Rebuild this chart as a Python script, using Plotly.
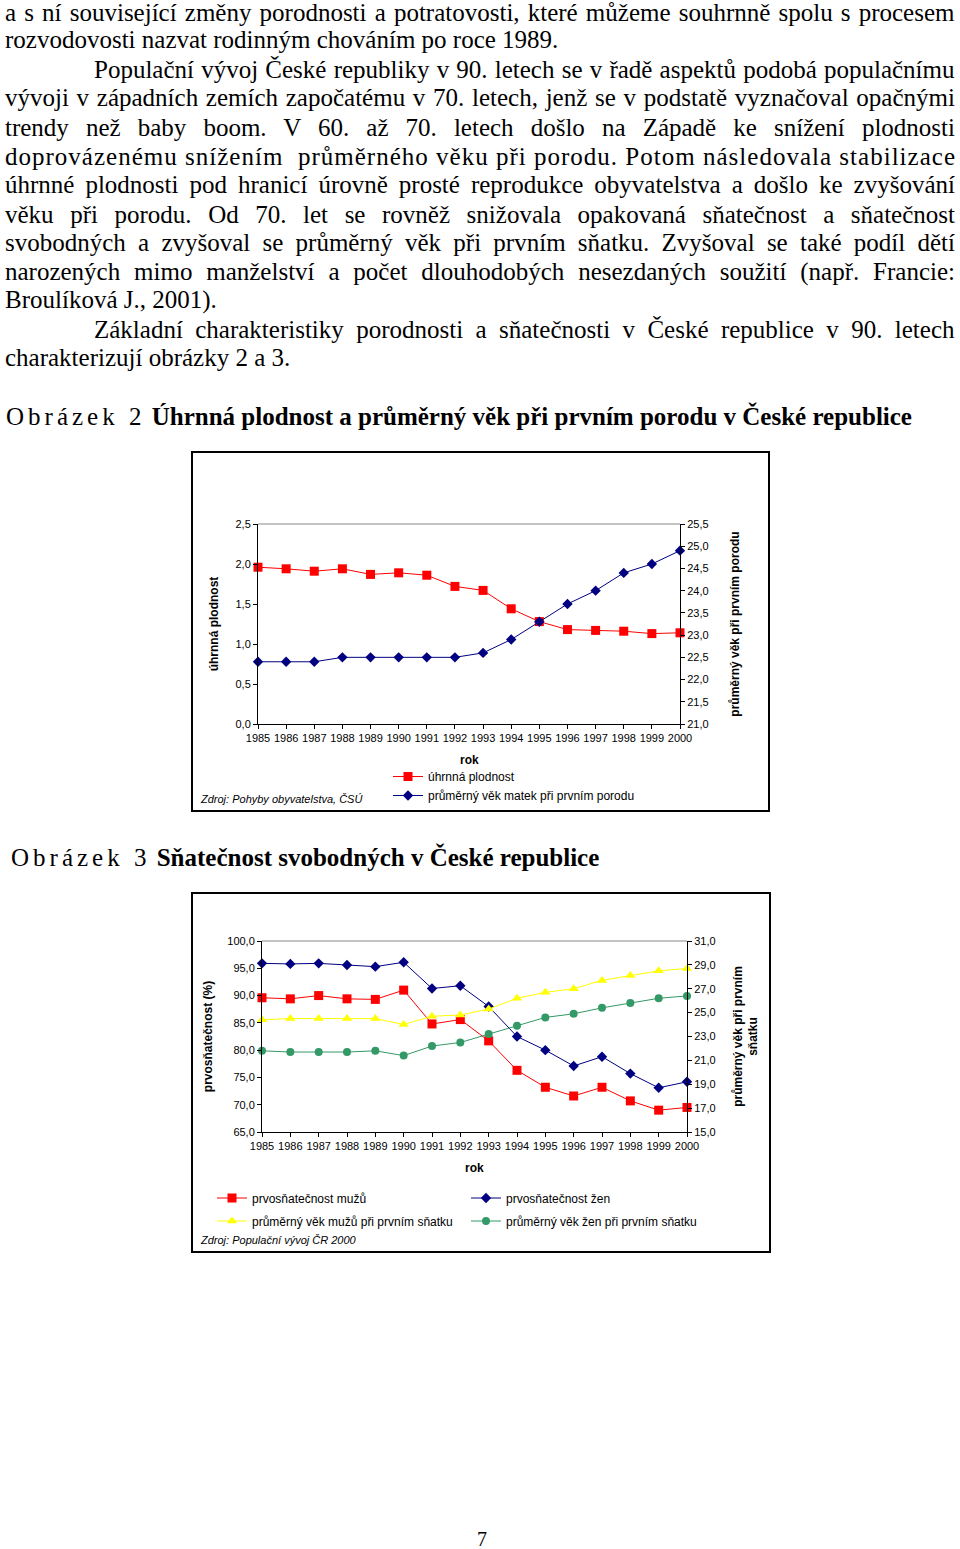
import plotly.graph_objects as go

W, H = 960, 1549

# ---------------- data ----------------
years = [1985, 1986, 1987, 1988, 1989, 1990, 1991, 1992, 1993, 1994, 1995, 1996, 1997, 1998, 1999, 2000]
year_labels = [str(y) for y in years]

# Obrázek 2
uhrnna_plodnost = [1.96, 1.94, 1.91, 1.94, 1.87, 1.89, 1.86, 1.72, 1.67, 1.44, 1.28, 1.18, 1.17, 1.16, 1.13, 1.14]
vek_matek_prvni_porod = [22.4, 22.4, 22.4, 22.5, 22.5, 22.5, 22.5, 22.5, 22.6, 22.9, 23.3, 23.7, 24.0, 24.4, 24.6, 24.9]

# Obrázek 3
prvosnatecnost_muzu = [89.6, 89.4, 90.0, 89.4, 89.3, 91.0, 84.8, 85.6, 81.7, 76.3, 73.2, 71.6, 73.2, 70.7, 69.0, 69.5]
prvosnatecnost_zen = [95.9, 95.8, 95.9, 95.6, 95.3, 96.1, 91.3, 91.8, 88.0, 82.5, 80.0, 77.1, 78.8, 75.7, 73.1, 74.2]
vek_muzu_prvni_snatek = [24.4, 24.5, 24.5, 24.5, 24.5, 24.0, 24.7, 24.8, 25.3, 26.2, 26.7, 27.0, 27.7, 28.1, 28.5, 28.7]
vek_zen_prvni_snatek = [21.8, 21.7, 21.7, 21.7, 21.8, 21.4, 22.2, 22.5, 23.2, 23.9, 24.6, 24.9, 25.4, 25.8, 26.2, 26.4]

# page text: (text, left x, y, justified)
text_lines = [
    ("a s ní související změny porodnosti a potratovosti, které můžeme souhrnně spolu s procesem", 4, 13, True),
    ("rozvodovosti nazvat rodinným chováním po roce 1989.", 4, 40, False),
    ("Populační vývoj České republiky v 90. letech se v řadě aspektů podobá populačnímu", 93, 69, True),
    ("vývoji v západních zemích započatému v 70. letech, jenž se v podstatě vyznačoval opačnými", 4, 98, True),
    ("trendy než baby boom. V 60. až 70. letech došlo na Západě ke snížení plodnosti", 4, 127, True),
    ("doprovázenému snížením  průměrného věku při porodu. Potom následovala stabilizace", 4, 156, True),
    ("úhrnné plodnosti pod hranicí úrovně prosté reprodukce obyvatelstva a došlo ke zvyšování", 4, 185, True),
    ("věku při porodu. Od 70. let se rovněž snižovala opakovaná sňatečnost a sňatečnost", 4, 214, True),
    ("svobodných a zvyšoval se průměrný věk při prvním sňatku. Zvyšoval se také podíl dětí", 4, 243, True),
    ("narozených mimo manželství a počet dlouhodobých nesezdaných soužití (např. Francie:", 4, 272, True),
    ("Broulíková J., 2001).", 4, 300, False),
    ("Základní charakteristiky porodnosti a sňatečnosti v České republice v 90. letech", 93, 330, True),
    ("charakterizují obrázky 2 a 3.", 4, 358, False),
]

def fx(px):
    return px / W

def fy(py):
    return 1 - py / H

RED = "#FF0000"
NAVY = "#000080"
YELLOW = "#FFFF00"
GREEN = "#339966"
SANS = "Liberation Sans, Arial, sans-serif"
SERIF = "Liberation Serif, Times New Roman, serif"

fig = go.Figure()

# ---- chart 1 ----
fig.add_trace(go.Scatter(
    x=years, y=uhrnna_plodnost, name="úhrnná plodnost", mode="lines+markers",
    line=dict(color=RED, width=1), marker=dict(symbol="square", size=9, color=RED),
    xaxis="x", yaxis="y", legend="legend", cliponaxis=False))
fig.add_trace(go.Scatter(
    x=years, y=vek_matek_prvni_porod, name="průměrný věk matek při prvním porodu", mode="lines+markers",
    line=dict(color=NAVY, width=1), marker=dict(symbol="diamond", size=8, color=NAVY),
    xaxis="x", yaxis="y2", legend="legend", cliponaxis=False))

# ---- chart 2 ----
fig.add_trace(go.Scatter(
    x=years, y=prvosnatecnost_muzu, name="prvosňatečnost mužů", mode="lines+markers",
    line=dict(color=RED, width=1), marker=dict(symbol="square", size=9, color=RED),
    xaxis="x2", yaxis="y3", legend="legend2", cliponaxis=False))
fig.add_trace(go.Scatter(
    x=years, y=prvosnatecnost_zen, name="prvosňatečnost žen", mode="lines+markers",
    line=dict(color=NAVY, width=1), marker=dict(symbol="diamond", size=8, color=NAVY),
    xaxis="x2", yaxis="y3", legend="legend3", cliponaxis=False))
fig.add_trace(go.Scatter(
    x=years, y=vek_muzu_prvni_snatek, name="průměrný věk mužů při prvním sňatku", mode="lines+markers",
    line=dict(color=YELLOW, width=1), marker=dict(symbol="triangle-up", size=9, color=YELLOW),
    xaxis="x2", yaxis="y4", legend="legend4", cliponaxis=False))
fig.add_trace(go.Scatter(
    x=years, y=vek_zen_prvni_snatek, name="průměrný věk žen při prvním sňatku", mode="lines+markers",
    line=dict(color=GREEN, width=1), marker=dict(symbol="circle", size=8, color=GREEN),
    xaxis="x2", yaxis="y4", legend="legend5", cliponaxis=False))

tickfont = dict(family=SANS, size=11, color="black")
titlefont = dict(family=SANS, size=12, color="black", weight="bold")
common_y = dict(showgrid=False, zeroline=False, showline=True, linecolor="black", linewidth=1,
                ticks="outside", ticklen=4, tickcolor="black", tickfont=tickfont, automargin=False)
common_x = dict(showgrid=False, zeroline=False, showline=True, linecolor="black", linewidth=1,
                ticks="outside", ticklen=4, tickcolor="black", tickfont=tickfont, automargin=False,
                tickmode="array", tickvals=years, ticktext=year_labels, range=[1985, 2000])

legend_common = dict(orientation="v", font=dict(family=SANS, size=12, color="black"),
                     bgcolor="rgba(0,0,0,0)", itemwidth=30, tracegroupgap=0,
                     xanchor="left", yanchor="middle", borderwidth=0)

fig.update_layout(
    width=W, height=H, margin=dict(l=0, r=0, t=0, b=0, pad=0),
    paper_bgcolor="white", plot_bgcolor="white", separators=", ",
    showlegend=True,
    xaxis=dict(domain=[fx(258), fx(680)], anchor="y", **common_x),
    yaxis=dict(domain=[fy(724), fy(524)], anchor="x", range=[0, 2.5], dtick=0.5, tick0=0,
               tickformat=".1f", title=dict(text="úhrnná plodnost", font=titlefont, standoff=14), **common_y),
    yaxis2=dict(domain=[fy(724), fy(524)], anchor="x", overlaying="y", side="right",
                range=[21, 25.5], dtick=0.5, tick0=21, tickformat=".1f",
                title=dict(text="průměrný věk při prvním porodu", font=titlefont, standoff=22), **common_y),
    xaxis2=dict(domain=[fx(262), fx(687)], anchor="y3", **common_x),
    yaxis3=dict(domain=[fy(1132), fy(941)], anchor="x2", range=[65, 100], dtick=5, tick0=65,
                tickformat=".1f", title=dict(text="prvosňatečnost (%)", font=titlefont, standoff=12), **common_y),
    yaxis4=dict(domain=[fy(1132), fy(941)], anchor="x2", overlaying="y3", side="right",
                range=[15, 31], dtick=2, tick0=15, tickformat=".1f",
                title=dict(text="průměrný věk při prvním<br>sňatku", font=titlefont, standoff=18), **common_y),
    legend=dict(x=fx(388), y=fy(786), **legend_common),
    legend2=dict(x=fx(212), y=fy(1198), **legend_common),
    legend3=dict(x=fx(466), y=fy(1198), **legend_common),
    legend4=dict(x=fx(212), y=fy(1221), **legend_common),
    legend5=dict(x=fx(466), y=fy(1221), **legend_common),
)

shapes = [
    dict(type="rect", xref="paper", yref="paper", x0=fx(192), x1=fx(769), y0=fy(811), y1=fy(452),
         line=dict(color="black", width=2), fillcolor="rgba(0,0,0,0)", layer="below"),
    dict(type="rect", xref="paper", yref="paper", x0=fx(192), x1=fx(770), y0=fy(1252), y1=fy(893),
         line=dict(color="black", width=2), fillcolor="rgba(0,0,0,0)", layer="below"),
    dict(type="line", xref="x domain", yref="y domain", x0=0, x1=1, y0=1, y1=1,
         line=dict(color="#888888", width=1)),
    dict(type="line", xref="x2 domain", yref="y3 domain", x0=0, x1=1, y0=1, y1=1,
         line=dict(color="#888888", width=1)),
]
fig.update_layout(shapes=shapes)

ann = []
justify = []
for txt, x0, y0, just in text_lines:
    if just:
        justify.append(len(ann))
    ann.append(dict(text=txt, x=fx(x0), y=fy(y0), xref="paper", yref="paper", xanchor="left",
                    yanchor="middle", align="left", showarrow=False, borderpad=0,
                    font=dict(family=SERIF, size=25, color="black")))

ann.append(dict(text='<span style="letter-spacing:4px">Obrázek 2</span> <b>Úhrnná plodnost a průměrný věk při prvním porodu v České republice</b>',
                x=fx(4), y=fy(416), xref="paper", yref="paper", xanchor="left", yanchor="middle",
                align="left", showarrow=False, font=dict(family=SERIF, size=25, color="black")))
ann.append(dict(text='<span style="letter-spacing:4px">Obrázek 3</span> <b>Sňatečnost svobodných v České republice</b>',
                x=fx(9), y=fy(857), xref="paper", yref="paper", xanchor="left", yanchor="middle",
                align="left", showarrow=False, font=dict(family=SERIF, size=25, color="black")))
ann.append(dict(text="rok", x=fx(469), y=fy(760), xref="paper", yref="paper", showarrow=False,
                yanchor="middle", font=dict(family=SANS, size=12, color="black", weight="bold")))
ann.append(dict(text="rok", x=fx(474), y=fy(1168), xref="paper", yref="paper", showarrow=False,
                yanchor="middle", font=dict(family=SANS, size=12, color="black", weight="bold")))
ann.append(dict(text="<i>Zdroj: Pohyby obyvatelstva, ČSÚ</i>", x=fx(198), y=fy(799), xref="paper", yref="paper",
                xanchor="left", yanchor="middle", showarrow=False, font=dict(family=SANS, size=11, color="black")))
ann.append(dict(text="<i>Zdroj: Populační vývoj ČR 2000</i>", x=fx(198), y=fy(1240), xref="paper", yref="paper",
                xanchor="left", yanchor="middle", showarrow=False, font=dict(family=SANS, size=11, color="black")))
ann.append(dict(text="7", x=fx(482), y=fy(1539), xref="paper", yref="paper", showarrow=False,
                yanchor="middle", font=dict(family=SERIF, size=20, color="black")))
fig.update_layout(annotations=ann)

post = """
document.body.style.margin = '0';
document.body.style.padding = '0';
document.documentElement.style.overflow = 'hidden';
var gd = document.getElementById('{plot_id}');
var idx = %s;
var box = gd.getBoundingClientRect();
var target = box.left + 955;
idx.forEach(function(i){
  var g = gd.querySelector('.annotation[data-index="' + i + '"]');
  if (!g) return;
  var t = g.querySelector('text');
  if (!t) return;
  var r = t.getBoundingClientRect();
  var s = (t.textContent.replace(/\\s+/g, ' ').match(/ /g) || []).length;
  if (!s) return;
  var extra = target - r.right;
  if (extra >= 0) {
    t.style.wordSpacing = (extra / s) + 'px';
  }
  var r2 = t.getBoundingClientRect();
  if (r2.right > target + 0.5) {
    t.style.wordSpacing = '';
    var r3 = t.getBoundingClientRect();
    t.setAttribute('textLength', String(r3.width - (r3.right - target)));
    t.setAttribute('lengthAdjust', 'spacing');
  }
});
""" % str(justify)

fig.write_html("out.html", post_script=post, config={"displayModeBar": False})
